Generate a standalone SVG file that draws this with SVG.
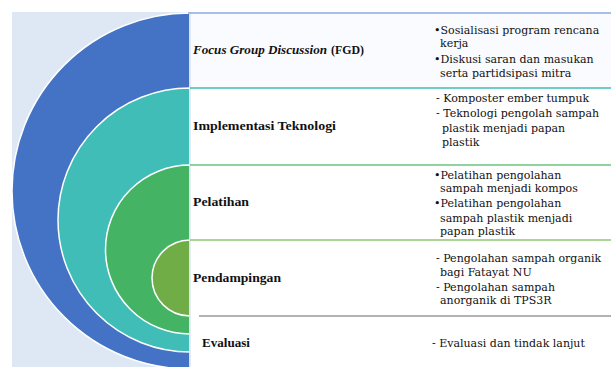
<svg xmlns="http://www.w3.org/2000/svg" width="611" height="367" viewBox="0 0 611 367">
<style>
.lbl{font-family:"Liberation Serif",serif;font-weight:bold;font-size:13.5px;fill:#111}
.txt{font-family:"DejaVu Serif",serif;font-size:11px;fill:#111}
.arc{stroke:#ffffff;stroke-width:1.5}
</style>
<rect width="611" height="367" fill="#ffffff"/>
<rect x="12" y="12" width="178" height="355" fill="#DEE8F5"/>
<g id="shapes">
<path class="arc" d="M190,13 A178,178 0 0 0 190,369 Z" fill="#4472C4"/>
<path class="arc" d="M190,88 A132,132 0 0 0 190,352 Z" fill="#3FBDB6"/>
<path class="arc" d="M190,165 A84.5,84.5 0 0 0 190,334 Z" fill="#44B464"/>
<path class="arc" d="M190,240 A38,38 0 0 0 190,316 Z" fill="#70AD47"/>
</g>
<g id="panel">
<rect x="190" y="13" width="421" height="75" fill="#FAFBFE"/>
<line x1="190" y1="12" x2="190" y2="367" stroke="#DCE6F4" stroke-width="1.5"/>
</g>
<g id="connectors">
<line x1="188" y1="13" x2="611" y2="13" stroke="#8FAADC" stroke-width="1.5"/>
<line x1="190" y1="88" x2="611" y2="88" stroke="#3FBDB6" stroke-width="1.5"/>
<line x1="190" y1="165" x2="611" y2="165" stroke="#6CC47E" stroke-width="1.5"/>
<line x1="190" y1="240" x2="611" y2="240" stroke="#8CC872" stroke-width="1.5"/>
<line x1="199" y1="316" x2="611" y2="316" stroke="#9A9A9A" stroke-width="1.5"/>
</g>
<g id="node-fgd">
<text class="lbl" x="193" y="54" font-style="italic" textLength="134" lengthAdjust="spacingAndGlyphs">Focus Group Discussion</text>
<text class="lbl" x="331" y="54" textLength="33" lengthAdjust="spacingAndGlyphs">(FGD)</text>
<text class="txt" x="434" y="34">•Sosialisasi program rencana</text>
<text class="txt" x="440" y="47">kerja</text>
<text class="txt" x="434" y="63">•Diskusi saran dan masukan</text>
<text class="txt" x="440" y="77">serta partidsipasi mitra</text>
</g>
<g id="node-implementasi">
<text class="lbl" x="193" y="130" textLength="143" lengthAdjust="spacingAndGlyphs">Implementasi Teknologi</text>
<text class="txt" x="436" y="102">- Komposter ember tumpuk</text>
<text class="txt" x="436" y="117">- Teknologi pengolah sampah</text>
<text class="txt" x="442" y="132">plastik menjadi papan</text>
<text class="txt" x="442" y="146">plastik</text>
</g>
<g id="node-pelatihan">
<text class="lbl" x="193" y="206" textLength="56" lengthAdjust="spacingAndGlyphs">Pelatihan</text>
<text class="txt" x="434" y="179">•Pelatihan pengolahan</text>
<text class="txt" x="440" y="192">sampah menjadi kompos</text>
<text class="txt" x="434" y="207">•Pelatihan pengolahan</text>
<text class="txt" x="440" y="222">sampah plastik menjadi</text>
<text class="txt" x="440" y="235">papan plastik</text>
</g>
<g id="node-pendampingan">
<text class="lbl" x="193" y="282" textLength="88" lengthAdjust="spacingAndGlyphs">Pendampingan</text>
<text class="txt" x="436" y="262">- Pengolahan sampah organik</text>
<text class="txt" x="440" y="276">bagi Fatayat NU</text>
<text class="txt" x="436" y="291">- Pengolahan sampah</text>
<text class="txt" x="440" y="304">anorganik di TPS3R</text>
</g>
<g id="node-evaluasi">
<text class="lbl" x="202" y="347" textLength="48" lengthAdjust="spacingAndGlyphs">Evaluasi</text>
<text class="txt" x="432" y="347">- Evaluasi dan tindak lanjut</text>
</g>
</svg>
